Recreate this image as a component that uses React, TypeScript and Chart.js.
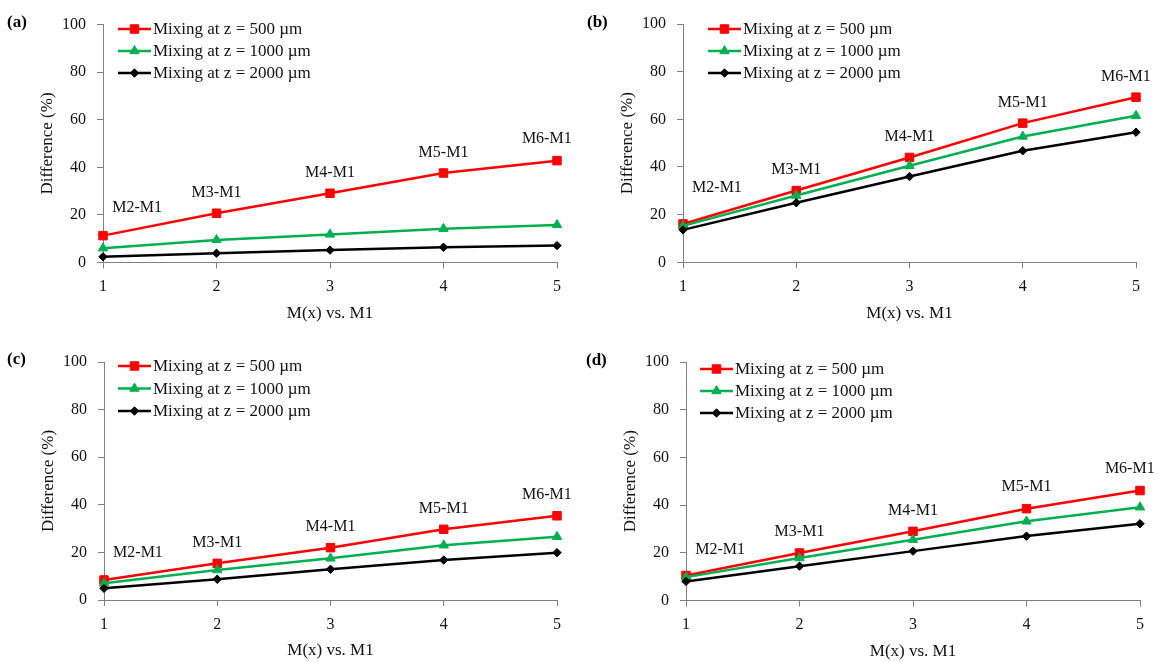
import React, { useEffect, useRef } from 'react';
import { Chart, registerables } from 'chart.js';
Chart.register(...registerables);

// ---------- data ----------
const xValues = [1, 2, 3, 4, 5];
const pairLabels = ['M2-M1', 'M3-M1', 'M4-M1', 'M5-M1', 'M6-M1'];
const seriesNames = ['Mixing at z = 500 µm', 'Mixing at z = 1000 µm', 'Mixing at z = 2000 µm'];
const yMin = 0;
const yMax = 100;
const yStep = 20;

const a500 = [11.3, 20.7, 29.1, 37.6, 42.8];
const a1000 = [6.0, 9.5, 11.8, 14.2, 15.8];
const a2000 = [2.4, 3.9, 5.2, 6.4, 7.1];

const b500 = [16.1, 30.1, 44.0, 58.4, 69.3];
const b1000 = [15.3, 28.0, 40.5, 52.8, 61.5];
const b2000 = [13.6, 25.0, 36.0, 46.8, 54.6];

const c500 = [8.4, 15.4, 22.0, 29.7, 35.4];
const c1000 = [7.0, 12.6, 17.5, 23.0, 26.6];
const c2000 = [4.9, 8.7, 12.9, 16.8, 19.9];

const d500 = [10.5, 19.9, 29.0, 38.5, 46.1];
const d1000 = [9.8, 17.8, 25.5, 33.2, 39.1];
const d2000 = [8.0, 14.4, 20.7, 27.0, 32.2];

// annotation anchors (data units)
const labelX = [1.3, 2, 3, 4, 4.91];
const aLabelY = [22.9, 29.2, 37.6, 46.0, 51.9];
const bLabelY = [31.2, 38.8, 52.8, 67.1, 78.0];
const cLabelY = [19.9, 24.2, 30.8, 38.5, 44.1];
const dLabelY = [21.3, 28.7, 37.5, 47.5, 55.3];

// ---------- styles ----------
const FONT = '"Liberation Serif", "Times New Roman", serif';
const seriesColors = ['#FF0000', '#00B050', '#000000'];
const seriesPoint = ['rect', 'triangle', 'rectRot'];
const seriesRadius = [6, 5.4, 4.2];

const panels = [
  { letter: '(a)', series: [a500, a1000, a2000], labelY: aLabelY, left: 0, top: 0, area: [103, 24.5, 557, 262.5], legend: [15, 4.5, 22], letterPos: [7, 23] },
  { letter: '(b)', series: [b500, b1000, b2000], labelY: bLabelY, left: 579, top: 0, area: [104, 24, 557, 262.3], legend: [25, 5, 22], letterPos: [8, 23] },
  { letter: '(c)', series: [c500, c1000, c2000], labelY: cLabelY, left: 0, top: 331, area: [104, 31, 557, 269], legend: [14, 4, 22.5], letterPos: [7, 29] },
  { letter: '(d)', series: [d500, d1000, d2000], labelY: dLabelY, left: 579, top: 331, area: [107, 31, 561, 269.5], legend: [14, 7, 22], letterPos: [7, 30] },
];

const W = 579;
const H = 331;
const Y_AXIS_W = 66;
const X_AXIS_H = 61;
const LINE_W = 2.5;

function drawMarker(ctx: CanvasRenderingContext2D, style: string, x: number, y: number, r: number, color: string) {
  ctx.fillStyle = color;
  ctx.strokeStyle = color;
  ctx.lineWidth = 1;
  ctx.beginPath();
  if (style === 'rect') {
    const s = r * Math.SQRT1_2;
    ctx.rect(x - s, y - s, 2 * s, 2 * s);
  } else if (style === 'triangle') {
    ctx.moveTo(x, y - r);
    ctx.lineTo(x + r * Math.sin(Math.PI / 3), y + r / 2);
    ctx.lineTo(x - r * Math.sin(Math.PI / 3), y + r / 2);
    ctx.closePath();
  } else {
    ctx.moveTo(x, y - r);
    ctx.lineTo(x + r, y);
    ctx.lineTo(x, y + r);
    ctx.lineTo(x - r, y);
    ctx.closePath();
  }
  ctx.fill();
  ctx.stroke();
}

const annotPlugin = {
  id: 'annot',
  afterDatasetsDraw(chart: any, _args: any, opts: any) {
    const { ctx, chartArea, scales } = chart;
    ctx.save();
    // pair labels
    ctx.font = `16px ${FONT}`;
    ctx.fillStyle = '#111';
    ctx.textAlign = 'center';
    ctx.textBaseline = 'middle';
    opts.labels.forEach((t: string, i: number) => {
      ctx.fillText(t, scales.x.getPixelForValue(opts.labelX[i]), scales.y.getPixelForValue(opts.labelY[i]));
    });
    // legend
    const [lx, ly, gap] = opts.legend;
    chart.data.datasets.forEach((ds: any, i: number) => {
      const x0 = chartArea.left + lx;
      const y0 = chartArea.top + ly + i * gap;
      ctx.strokeStyle = ds.borderColor;
      ctx.lineWidth = LINE_W;
      ctx.beginPath();
      ctx.moveTo(x0, y0);
      ctx.lineTo(x0 + 33, y0);
      ctx.stroke();
      drawMarker(ctx, ds.pointStyle, x0 + 16.5, y0, ds.pointRadius, ds.borderColor);
      ctx.font = `17px ${FONT}`;
      ctx.fillStyle = '#111';
      ctx.textAlign = 'left';
      ctx.textBaseline = 'middle';
      ctx.fillText(ds.label, x0 + 35, y0 + 1);
    });
    // panel letter
    ctx.font = `bold 17px ${FONT}`;
    ctx.fillStyle = '#000';
    ctx.textAlign = 'left';
    ctx.textBaseline = 'middle';
    ctx.fillText(opts.letter, opts.letterPos[0], opts.letterPos[1]);
    ctx.restore();
  },
};

function Panel({ cfg }: { cfg: any }) {
  const ref = useRef<HTMLCanvasElement | null>(null);
  useEffect(() => {
    if (!ref.current) return;
    const [aL, aT, aR, aB] = cfg.area;
    const chart = new Chart(ref.current, {
      type: 'line',
      data: {
        datasets: cfg.series.map((vals: number[], i: number) => ({
          label: seriesNames[i],
          data: xValues.map((x, j) => ({ x, y: vals[j] })),
          borderColor: seriesColors[i],
          backgroundColor: seriesColors[i],
          borderWidth: LINE_W,
          pointStyle: seriesPoint[i],
          pointRadius: seriesRadius[i],
          pointBorderWidth: 1,
          pointHoverRadius: seriesRadius[i],
          tension: 0,
          clip: false,
          order: 3 - i,
        })),
      },
      options: {
        animation: false,
        responsive: false,
        devicePixelRatio: 1,
        events: [],
        layout: {
          padding: {
            left: aL - Y_AXIS_W,
            top: aT,
            right: W - aR,
            bottom: H - aB - X_AXIS_H,
          },
        },
        plugins: {
          legend: { display: false },
          tooltip: { enabled: false },
          annot: {
            labels: pairLabels,
            labelX,
            labelY: cfg.labelY,
            legend: cfg.legend,
            letter: cfg.letter,
            letterPos: cfg.letterPos,
          },
        } as any,
        scales: {
          x: {
            type: 'linear',
            min: 1,
            max: 5,
            afterFit: (s: any) => { s.height = X_AXIS_H; },
            ticks: { stepSize: 1, padding: 9, color: '#111', font: { family: FONT, size: 16 }, maxRotation: 0 },
            grid: { display: true, drawOnChartArea: false, drawTicks: true, tickLength: 6, color: '#808080' },
            border: { display: true, color: '#808080', width: 1 },
            title: { display: true, text: 'M(x) vs. M1', color: '#111', font: { family: FONT, size: 17 }, padding: 0 },
          },
          y: {
            type: 'linear',
            min: yMin,
            max: yMax,
            afterFit: (s: any) => { s.width = Y_AXIS_W; },
            ticks: { stepSize: yStep, padding: 11, color: '#111', font: { family: FONT, size: 16 } },
            grid: { display: true, drawOnChartArea: false, drawTicks: true, tickLength: 6, color: '#808080' },
            border: { display: true, color: '#808080', width: 1 },
            title: { display: true, text: 'Difference (%)', color: '#111', font: { family: FONT, size: 17 }, padding: 0 },
          },
        },
      },
      plugins: [annotPlugin as any],
    });
    return () => chart.destroy();
  }, [cfg]);
  return (
    <canvas
      ref={ref}
      width={W}
      height={H}
      style={{ position: 'absolute', left: cfg.left, top: cfg.top, width: W, height: H }}
    />
  );
}

export default function App() {
  return (
    <div style={{ position: 'absolute', left: 0, top: 0, width: 1158, height: 662, background: '#fff', overflow: 'hidden' }}>
      {panels.map((p) => (
        <Panel key={p.letter} cfg={p} />
      ))}
    </div>
  );
}
